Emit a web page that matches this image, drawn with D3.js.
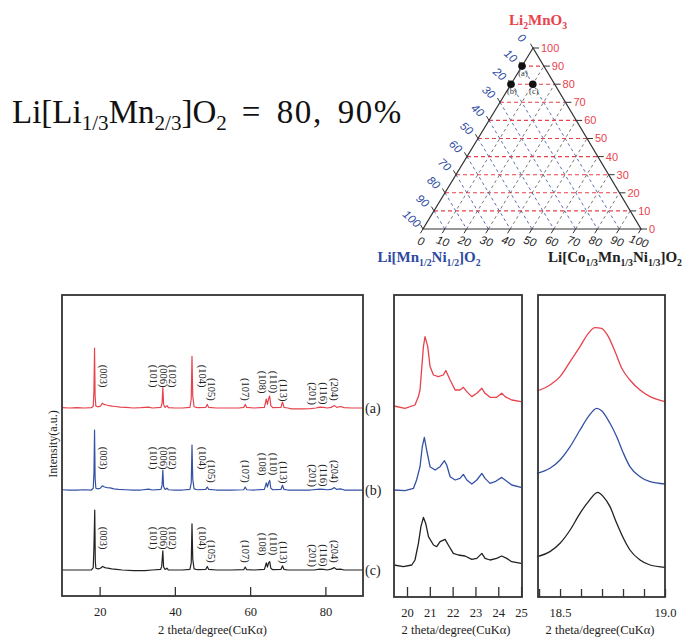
<!DOCTYPE html>
<html lang="en">
<head>
<meta charset="UTF-8">
<title>XRD of Li[Li1/3Mn2/3]O2 based cathodes</title>
<script src="https://d3js.org/d3.v7.min.js"></script>
<style>
  body { margin: 0; background: #fff; }
  svg { display: block; }
  text { font-family: "Liberation Serif", "Times New Roman", serif; }
  .sans { font-family: "Liberation Sans", Arial, sans-serif; }
</style>
</head>
<body>
<div id="chart"></div>
<script>
// ---------- data ----------
const sampleNames = ["(a)", "(b)", "(c)"];
const sampleColors = ["#e8424c", "#3451a5", "#222222"];

// full scan, 2theta vs relative intensity, (003) = 100
const patternA = [[10,0.5],[12,0],[14,0.5],[16,0],[17.8,0.5],[18.3,3],[18.5,30],[18.65,100],[18.8,20],[19.0,3],[19.5,2],[20.2,3],[20.7,8],[21.2,6],[21.8,5],[22.5,4],[23.3,3],[24.2,2.5],[25.5,1.5],[27,1],[29,0],[31,0.5],[33,1.5],[34,0],[36.3,1],[36.6,8],[36.8,34],[37.0,6],[37.4,1],[37.9,4],[38.3,0.5],[40,0],[42,0],[44.0,1],[44.35,15],[44.55,86],[44.75,20],[45.1,2],[46,0.5],[48.2,1],[48.6,6],[49.0,1],[51,0],[54,0],[57,0],[58.3,1],[58.7,6],[59.1,1],[61,0],[63.8,1],[64.3,15],[64.6,6],[64.9,15],[65.2,20],[65.5,4],[66,0.5],[68.2,1],[68.6,10],[69,1],[70,0],[71,-1.5],[74,-1.5],[76,-1],[77.5,0],[78.5,1.5],[79.5,1],[80.5,0],[81.5,1],[82.4,4],[83,1],[84,2.5],[85,0.5],[87,0],[90,0]];
const patternB = [[10,0.5],[12,0],[14,0],[16,0.5],[17.8,0],[18.3,3],[18.5,30],[18.65,100],[18.8,20],[19.0,3],[19.6,2],[20.2,3],[20.7,7],[21.3,5],[22,4],[22.8,3.5],[23.8,2],[25,1],[27,0.5],[29,0],[31,0],[33,1.5],[34,0],[36.3,1],[36.6,8],[36.8,33],[37.0,6],[37.4,1],[37.9,3],[38.3,0.5],[40,0],[42,0],[44.0,1],[44.35,12],[44.55,75],[44.75,18],[45.1,2],[46,0.5],[48.2,1],[48.6,5],[49.0,1],[51,0],[55,0],[58.3,0.5],[58.7,5],[59.1,0.5],[61,0],[63.8,1],[64.3,12],[64.6,5],[64.9,12],[65.2,16],[65.5,3],[66,0.5],[68.2,1],[68.6,8],[69,1],[70,0],[73,0],[76,0],[78.5,1.5],[79.5,1],[80.5,0.5],[81.5,1],[82.4,4],[83,1],[84,2],[85,0],[87,0],[90,0]];
const patternC = [[10,0],[12,0],[14,0],[16,0],[17.8,0],[18.3,4],[18.5,40],[18.6,70],[18.7,100],[18.85,15],[19.0,3],[19.6,2],[20.2,3],[20.8,6],[21.4,4],[22.2,3],[23.2,2],[24.5,1],[26,0],[29,-1],[32,-1],[34,0],[36.2,1],[36.5,6],[36.8,32],[37.0,5],[37.4,1],[37.9,3],[38.3,0],[40,0],[42,0],[44.0,1],[44.35,12],[44.55,77],[44.75,18],[45.1,2],[46,0.5],[48.2,1],[48.6,6],[49,1],[51,0],[55,0],[58.3,0.5],[58.7,5],[59.1,0.5],[61,0],[63.8,1],[64.3,12],[64.6,5],[64.9,12],[65.2,14],[65.5,3],[66,0.5],[68.2,1],[68.6,7],[69,1],[70,0],[73,0],[77,0],[78.5,1.5],[79.5,1],[80.5,0],[81.5,1.5],[82.4,4],[83,1],[84,1.5],[85,0],[87,0],[90,0]];

// peak indexing
const hklLabels = ["(003)","(101)","(006)","(102)","(104)","(105)","(107)","(108)","(110)","(113)","(201)","(116)","(204)"];
const hklTheta = [20.9, 34.3, 37.0, 39.3, 47.3, 49.7, 58.8, 63.3, 66.3, 68.9, 76.7, 79.6, 82.5];

// superlattice region 20-25 deg
const midA = [[19.43,2.3],[19.91,0],[20.35,3.3],[20.50,11.7],[20.57,18.3],[20.72,61.7],[20.79,71.7],[20.91,61.7],[21.01,41.7],[21.16,33.3],[21.37,31.7],[21.59,33.3],[21.70,37.7],[21.89,28.3],[22.11,18.3],[22.32,18.3],[22.47,21],[22.62,16.7],[22.84,11.7],[23.06,15],[23.28,20],[23.42,15],[23.64,11],[23.93,11],[24.15,15],[24.30,11.7],[24.59,8.3],[25.00,6.7]];
const midB = [[19.43,0.7],[19.91,0],[20.28,2.3],[20.42,10.7],[20.57,24],[20.67,44],[20.76,53.3],[20.86,40.7],[21.01,24],[21.23,20.7],[21.45,24],[21.64,30],[21.74,25.7],[21.89,14],[22.11,10.7],[22.32,12.3],[22.47,16.3],[22.62,10.7],[22.84,6.7],[23.06,10.7],[23.28,17.3],[23.42,12.3],[23.64,7.3],[23.86,9],[24.15,13.3],[24.30,10.7],[24.59,5.7],[25.00,3.3]];
const midC = [[19.43,1.7],[19.84,0],[20.21,1.7],[20.35,6.7],[20.50,23.3],[20.61,40],[20.72,49.3],[20.82,43.3],[20.94,30],[21.16,21.7],[21.30,20],[21.45,25],[21.67,27.3],[21.81,21.7],[22.03,13.3],[22.25,11.7],[22.54,10.7],[22.84,7.3],[23.06,8.3],[23.28,13.3],[23.42,8.3],[23.64,6.7],[23.93,8.3],[24.15,10.7],[24.37,8.3],[24.59,5],[25.00,3.3]];

// (003) peak, 18.4-19.0 deg
const rightA = [[18.39,12.3],[18.452,18.3],[18.5,26.7],[18.548,41.7],[18.595,56.7],[18.635,70],[18.667,75.7],[18.698,75],[18.73,66.7],[18.762,51.7],[18.794,35],[18.833,23.3],[18.881,13.3],[18.929,6.7],[19.0,1.7]];
const rightB = [[18.39,11.7],[18.452,16.7],[18.5,25],[18.548,38.3],[18.595,55],[18.635,68.3],[18.675,76.7],[18.698,74.3],[18.738,61.7],[18.77,48.3],[18.802,31.7],[18.833,18.3],[18.881,8.3],[18.929,3.3],[19.0,1]];
const rightC = [[18.39,11.7],[18.452,16.7],[18.5,25],[18.548,38.3],[18.595,55],[18.635,66.7],[18.679,76],[18.706,71.7],[18.738,61.7],[18.77,45],[18.802,30],[18.833,18.3],[18.881,8.3],[18.929,3.3],[19.0,1]];

const mainTicks = [20, 40, 60, 80];
const midTicks = [20, 21, 22, 23, 24, 25];
const rightTicks = [18.4, 18.5, 18.6, 18.7, 18.8, 18.9, 19.0];
const rightTickLabels = [18.5, 19.0];

// ternary diagram: compositions (Li2MnO3, LiMn1/2Ni1/2O2, LiCo1/3Mn1/3Ni1/3O2) in %
const ternaryTicks = [0, 10, 20, 30, 40, 50, 60, 70, 80, 90, 100];
const compositions = [[90, 10, 0], [80, 20, 0], [80, 10, 10]];

// ---------- layout ----------
const W = 688, H = 637;
const svg = d3.select("#chart").append("svg").attr("width", W).attr("height", H).attr("fill", "#222");
svg.append("rect").attr("width", W).attr("height", H).attr("fill", "#fff");

const frame = "#333";

// text with chemical subscripts
function chem(x, y, parts, size, color, opts = {}) {
  const t = svg.append("text").attr("x", x).attr("y", y)
    .attr("text-anchor", opts.anchor || "middle")
    .attr("font-size", size).attr("font-weight", opts.weight || "bold").attr("fill", color);
  const subSize = size * (opts.subScale || 0.65), drop = size * (opts.drop || 0.25);
  let down = false;
  parts.forEach(([s, sub, extra]) => {
    const sp = t.append("tspan").text(s);
    if (extra) sp.attr("letter-spacing", extra.ls).attr("word-spacing", extra.ws);
    if (sub) {
      sp.attr("font-size", subSize);
      if (!down) { sp.attr("dy", drop); down = true; }
    } else if (down) {
      sp.attr("dy", -drop); down = false;
    }
  });
  return t;
}

// big title
chem(12, 123, [["Li[Li", 0], ["1/3", 1], ["Mn", 0], ["2/3", 1], ["]O", 0], ["2", 1], [" = 80, 90%", 0, {ls: 1.6, ws: 5}]], 33, "#111",
  {anchor: "start", weight: "normal", subScale: 0.64, drop: 0.22});

// ---------- main XRD panel ----------
const mp = {l: 62, r: 363, t: 295, b: 596};
const xMain = d3.scaleLinear().domain([10, 90]).range([mp.l, mp.r]);
const yMain = d3.scaleLinear().domain([-43.3, 458.3]).range([mp.b, mp.t]);
const mainOffsets = [270, 133.3, 0];
const patterns = [patternA, patternB, patternC];

patterns.forEach((pat, i) => {
  const line = d3.line().x(d => xMain(d[0])).y(d => yMain(d[1] + mainOffsets[i]));
  svg.append("path").datum(pat).attr("d", line).attr("fill", "none")
    .attr("stroke", sampleColors[i]).attr("stroke-width", 1.2).attr("stroke-linejoin", "round");
});

// hkl labels (top of text, in intensity units above baseline)
const hklLift = [72, 72, 72, 72, 72, 50, 50, 62, 62, 48, 43, 43, 50];
patterns.forEach((pat, i) => {
  hklLabels.forEach((lab, j) => {
    const x = xMain(hklTheta[j]);
    const y = yMain(mainOffsets[i] + hklLift[j]);
    svg.append("text").attr("transform", `translate(${x},${y}) rotate(90)`)
      .attr("dy", "0.33em").attr("font-size", 10.5).attr("fill", "#222").text(lab);
  });
  svg.append("text").attr("x", mp.r + 2).attr("y", yMain(mainOffsets[i])).attr("dy", "0.35em")
    .attr("font-size", 14).attr("fill", "#222").text(sampleNames[i]);
});

svg.append("rect").attr("x", mp.l).attr("y", mp.t).attr("width", mp.r - mp.l).attr("height", mp.b - mp.t)
  .attr("fill", "none").attr("stroke", frame).attr("stroke-width", 1.8);

function styleAxis(ax) {
  ax.select(".domain").remove();
  ax.selectAll("line").attr("stroke", frame).attr("stroke-width", 1.3);
  ax.selectAll("text").attr("font-family", "Liberation Serif").attr("font-size", 12.5).attr("fill", "#222");
}

const axMain = svg.append("g").attr("transform", `translate(0,${mp.b})`)
  .call(d3.axisBottom(xMain).tickValues(mainTicks).tickSize(-9).tickPadding(11).tickFormat(d3.format("d")));
styleAxis(axMain);

svg.append("text").attr("x", (mp.l + mp.r) / 2).attr("y", 634).attr("text-anchor", "middle")
  .attr("font-size", 12.5).attr("fill", "#222").text("2 theta/degree(CuKα)");
svg.append("text").attr("transform", `translate(57,${444}) rotate(-90)`).attr("text-anchor", "middle")
  .attr("font-size", 12).attr("fill", "#222").text("Intensity(a.u.)");

// ---------- 20-25 degree panel ----------
const md = {l: 394, r: 522, t: 295, b: 597};
const xMid = d3.scaleLinear().domain([19.43, 25.04]).range([md.l, md.r]);
const yMid = d3.scaleLinear().domain([0, 302]).range([md.b, md.t]);
const midOffsets = [188.7, 106.3, 30.3];
[midA, midB, midC].forEach((s, i) => {
  const line = d3.line().x(d => xMid(d[0])).y(d => yMid(d[1] + midOffsets[i]));
  svg.append("path").datum(s).attr("d", line).attr("fill", "none")
    .attr("stroke", sampleColors[i]).attr("stroke-width", 1.3).attr("stroke-linejoin", "round");
});
svg.append("rect").attr("x", md.l).attr("y", md.t).attr("width", md.r - md.l).attr("height", md.b - md.t)
  .attr("fill", "none").attr("stroke", frame).attr("stroke-width", 1.8);
const axMid = svg.append("g").attr("transform", `translate(0,${md.b})`)
  .call(d3.axisBottom(xMid).tickValues(midTicks).tickSize(-10).tickPadding(11).tickFormat(d3.format("d")));
styleAxis(axMid);
svg.append("text").attr("x", (md.l + md.r) / 2 - 2).attr("y", 634).attr("text-anchor", "middle")
  .attr("font-size", 12.5).attr("fill", "#222").text("2 theta/degree(CuKα)");

// ---------- (003) panel ----------
const rp = {l: 538, r: 665, t: 295, b: 597};
const xRight = d3.scaleLinear().domain([18.395, 19.0]).range([rp.l, rp.r]);
const yRight = d3.scaleLinear().domain([0, 302]).range([rp.b, rp.t]);
const rightOffsets = [193.7, 112, 28.7];
[rightA, rightB, rightC].forEach((s, i) => {
  const line = d3.line().curve(d3.curveMonotoneX).x(d => xRight(d[0])).y(d => yRight(d[1] + rightOffsets[i]));
  svg.append("path").datum(s).attr("d", line).attr("fill", "none")
    .attr("stroke", sampleColors[i]).attr("stroke-width", 1.3);
});
svg.append("rect").attr("x", rp.l).attr("y", rp.t).attr("width", rp.r - rp.l).attr("height", rp.b - rp.t)
  .attr("fill", "none").attr("stroke", frame).attr("stroke-width", 1.8);
const axRight = svg.append("g").attr("transform", `translate(0,${rp.b})`)
  .call(d3.axisBottom(xRight).tickValues(rightTicks).tickSize(-8).tickPadding(11)
    .tickFormat(d => rightTickLabels.some(v => Math.abs(v - d) < 1e-6) ? d3.format(".1f")(d) : ""));
styleAxis(axRight);
svg.append("text").attr("x", 600).attr("y", 634).attr("text-anchor", "middle")
  .attr("font-size", 12.5).attr("fill", "#222").text("2 theta/degree(CuKα)");

// ---------- ternary diagram ----------
const apex = [533, 48], BL = [423, 229], BR = [641, 229];
const tp = (a, b, c) => [a * apex[0] + b * BL[0] + c * BR[0], a * apex[1] + b * BL[1] + c * BR[1]];
const tern = svg.append("g");
const red = "#e8424c", blue = "#2d4aa2";

ternaryTicks.slice(1, -1).forEach(v => {
  const f = v / 100;
  let p1 = tp(f, 1 - f, 0), p2 = tp(f, 0, 1 - f);
  tern.append("line").attr("x1", p1[0]).attr("y1", p1[1]).attr("x2", p2[0]).attr("y2", p2[1])
    .attr("stroke", red).attr("stroke-width", 1.1).attr("stroke-dasharray", "4,3");
  p1 = tp(1 - f, f, 0); p2 = tp(0, f, 1 - f);
  tern.append("line").attr("x1", p1[0]).attr("y1", p1[1]).attr("x2", p2[0]).attr("y2", p2[1])
    .attr("stroke", blue).attr("stroke-width", 0.8).attr("stroke-dasharray", "3,3");
  p1 = tp(0, 1 - f, f); p2 = tp(1 - f, 0, f);
  tern.append("line").attr("x1", p1[0]).attr("y1", p1[1]).attr("x2", p2[0]).attr("y2", p2[1])
    .attr("stroke", "#555").attr("stroke-width", 0.8).attr("stroke-dasharray", "3,3");
});

tern.append("path").attr("d", d3.line()([apex, BL, BR, apex]) + "Z")
  .attr("fill", "none").attr("stroke", "#333").attr("stroke-width", 1.2);

// ticks and tick labels
const norm = (v) => { const l = Math.hypot(v[0], v[1]); return [v[0] / l, v[1] / l]; };
const dirLeft = norm([apex[0] - BR[0], apex[1] - BR[1]]);
const dirBottom = norm([BL[0] - apex[0], BL[1] - apex[1]]);
ternaryTicks.forEach(v => {
  const f = v / 100;
  // Li2MnO3 (right side)
  let p = tp(f, 0, 1 - f);
  tern.append("line").attr("x1", p[0]).attr("y1", p[1]).attr("x2", p[0] + 6).attr("y2", p[1])
    .attr("stroke", "#333").attr("stroke-width", 1);
  tern.append("text").attr("class", "sans").attr("x", p[0] + 8).attr("y", p[1]).attr("dy", "0.36em")
    .attr("font-size", 11).attr("fill", red).text(v);
  // Li[Mn1/2Ni1/2]O2 (left side)
  p = tp(1 - f, f, 0);
  tern.append("line").attr("x1", p[0]).attr("y1", p[1]).attr("x2", p[0] + dirLeft[0] * 5).attr("y2", p[1] + dirLeft[1] * 5)
    .attr("stroke", "#333").attr("stroke-width", 1);
  tern.append("text").attr("class", "sans")
    .attr("transform", `translate(${p[0] + dirLeft[0] * 12 - 5},${p[1] + dirLeft[1] * 12}) rotate(42)`)
    .attr("text-anchor", "middle").attr("dy", "0.36em").attr("font-size", 11.5).attr("font-style", "italic")
    .attr("fill", blue).text(v);
  // Li[Co1/3Mn1/3Ni1/3]O2 (bottom)
  p = tp(0, 1 - f, f);
  tern.append("line").attr("x1", p[0]).attr("y1", p[1]).attr("x2", p[0] + dirBottom[0] * 5).attr("y2", p[1] + dirBottom[1] * 5)
    .attr("stroke", "#333").attr("stroke-width", 1);
  tern.append("text").attr("class", "sans")
    .attr("transform", `translate(${p[0] - 2},${p[1] + 12}) rotate(18)`)
    .attr("text-anchor", "middle").attr("dy", "0.36em").attr("font-size", 11.5).attr("font-style", "italic")
    .attr("fill", "#222").text(v);
});

// sample compositions
compositions.forEach((c, i) => {
  const p = tp(c[0] / 100, c[1] / 100, c[2] / 100);
  tern.append("circle").attr("cx", p[0]).attr("cy", p[1]).attr("r", 3.8).attr("fill", "#111");
  tern.append("text").attr("x", p[0] + 1).attr("y", p[1] + 10).attr("text-anchor", "middle")
    .attr("font-size", 8.5).attr("fill", "#333").text(sampleNames[i]);
});

// vertex labels
chem(538, 25, [["Li", 0], ["2", 1], ["MnO", 0], ["3", 1]], 15, red);
chem(429, 262, [["Li[Mn", 0], ["1/2", 1], ["Ni", 0], ["1/2", 1], ["]O", 0], ["2", 1]], 15, blue);
chem(615, 262, [["Li[Co", 0], ["1/3", 1], ["Mn", 0], ["1/3", 1], ["Ni", 0], ["1/3", 1], ["]O", 0], ["2", 1]], 15, "#222");
</script>
</body>
</html>
